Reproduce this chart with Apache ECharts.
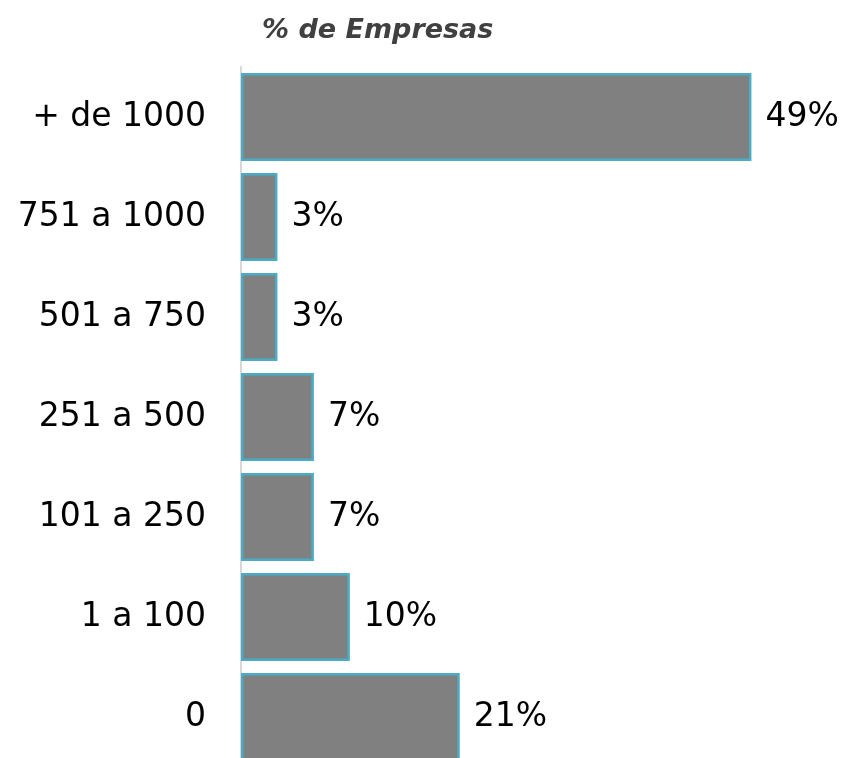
<!DOCTYPE html>
<html><head><meta charset="utf-8">
<script src="https://cdn.jsdelivr.net/npm/echarts@6/dist/echarts.min.js"></script>
<style>html,body{margin:0;padding:0;background:#fff;overflow:hidden}#c{width:844px;height:770px}</style>
</head><body><div id="c"></div>
<script>
const categories = ['0', '1 a 100', '101 a 250', '251 a 500', '501 a 750', '751 a 1000', '+ de 1000'];
const values = [20.7, 10.3, 6.9, 6.9, 3.45, 3.45, 48.3];
const valueLabels = ['21%', '10%', '7%', '7%', '3%', '3%', '49%'];
const titleText = '% de Empresas';

const chart = echarts.init(document.getElementById('c'), null, {renderer: 'canvas'});
chart.setOption({
  animation: false,
  title: {
    text: titleText, left: 257, top: 12,
    textStyle: {fontFamily: 'DejaVu Sans', fontSize: 27, fontWeight: 'bold', fontStyle: 'italic', color: '#404040'}
  },
  grid: {left: 241, top: 67, width: 577, height: 700, containLabel: false},
  xAxis: {type: 'value', min: 0, max: 54.6, show: false},
  yAxis: {
    type: 'category', data: categories,
    axisLine: {show: true, lineStyle: {color: '#d9d9d9', width: 2}},
    axisTick: {show: false},
    axisLabel: {fontFamily: 'DejaVu Sans', fontSize: 33, color: '#000', margin: 35}
  },
  series: [{
    type: 'bar', data: values, barCategoryGap: '12%',
    itemStyle: {color: '#808080', borderColor: '#4bacc6', borderWidth: 2.5},
    label: {
      show: true, position: 'right', distance: 14,
      fontFamily: 'DejaVu Sans', fontSize: 33, color: '#000',
      formatter: p => valueLabels[p.dataIndex]
    }
  }]
});
</script></body></html>
